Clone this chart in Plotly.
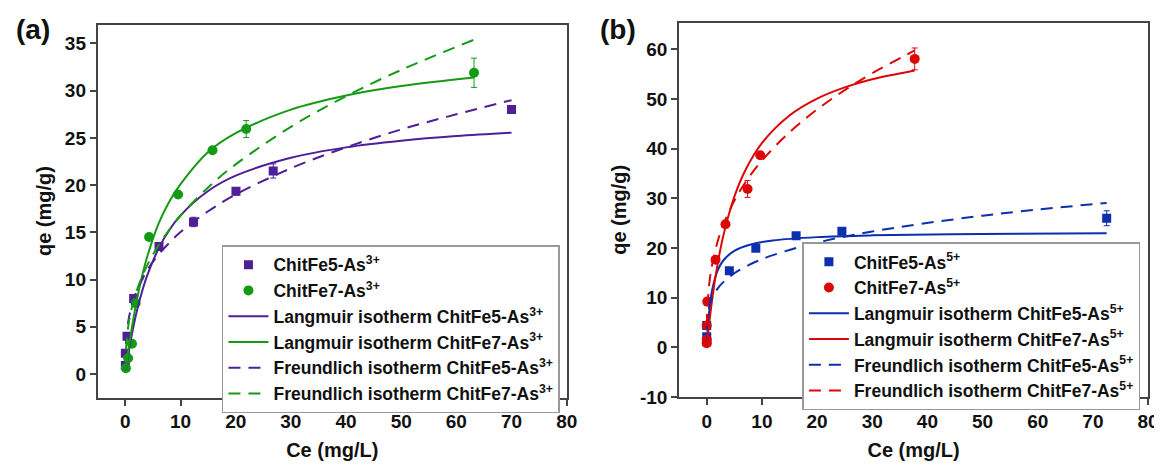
import plotly.graph_objects as go

# ---------------- Panel (a): As(III) ----------------
a_fe5_x = [0.0, 0.0, 0.3, 1.5, 6.1, 12.35, 20.05, 26.8, 70.0]
a_fe5_y = [0.9, 2.2, 4.0, 8.0, 13.5, 16.1, 19.35, 21.5, 28.0]
a_fe5_err = [0.1, 0.1, 0.2, 0.3, 0.3, 0.5, 0.4, 0.75, 0.3]

a_fe7_x = [0.1, 0.5, 1.2, 1.86, 4.3, 9.56, 15.8, 21.9, 63.2]
a_fe7_y = [0.6, 1.66, 3.2, 7.5, 14.5, 19.0, 23.7, 25.95, 31.9]
a_fe7_err = [0.1, 0.1, 0.2, 0.3, 0.3, 0.3, 0.3, 0.9, 1.55]

a_curve_x = [0.1, 0.5, 1, 2, 3, 4, 6, 8, 10, 15, 20, 30, 40, 50, 60, 70]
a_lang_fe5 = [0.41, 1.95, 3.65, 6.46, 8.69, 10.5, 13.26, 15.27, 16.8, 19.38, 21.0, 22.9, 24.0, 24.7, 25.2, 25.56]
a_freu_fe5 = [3.17, 5.46, 6.9, 8.72, 9.95, 11.03, 12.64, 13.9, 15.03, 17.23, 19.0, 21.78, 24.0, 25.9, 27.5, 29.0]

a_curve7_x = [0.1, 0.5, 1, 2, 3, 4, 6, 8, 10, 15, 20, 30, 40, 50, 63.2]
a_lang_fe7 = [0.48, 2.3, 4.25, 7.6, 10.3, 12.5, 15.9, 18.3, 20.1, 23.5, 25.5, 28.0, 29.5, 30.5, 31.4]
a_freu_fe7 = [2.58, 4.97, 6.58, 8.72, 10.26, 11.55, 13.62, 15.3, 16.76, 19.76, 22.2, 26.17, 29.42, 32.2, 35.4]

# ---------------- Panel (b): As(V) ----------------
b_fe5_x = [0.0, 0.0, 0.0, 4.1, 8.9, 16.2, 24.5, 72.5]
b_fe5_y = [1.1, 2.1, 4.4, 15.4, 19.95, 22.45, 23.35, 26.0]
b_fe5_err = [0.2, 0.2, 0.3, 0.5, 0.4, 0.4, 0.4, 1.5]

b_fe7_x = [0.0, 0.0, 0.0, 0.1, 1.6, 3.4, 7.4, 9.7, 37.7]
b_fe7_y = [0.8, 1.5, 4.4, 9.2, 17.65, 24.8, 31.9, 38.7, 58.1]
b_fe7_err = [0.2, 0.2, 0.3, 0.4, 0.5, 0.6, 1.7, 0.6, 2.2]

b_curve5_x = [0.02, 0.1, 0.3, 0.6, 1, 2, 3, 5, 8, 12, 20, 30, 50, 72.5]
b_lang_fe5 = [0.46, 2.12, 5.38, 8.74, 11.65, 15.53, 17.48, 19.42, 20.71, 21.51, 22.19, 22.55, 22.84, 22.98]
b_freu_fe5 = [3.75, 5.61, 7.38, 8.77, 9.97, 11.86, 13.12, 14.91, 16.77, 18.56, 21.08, 23.33, 26.51, 29.09]

b_curve7_x = [0.02, 0.1, 0.5, 1, 2, 3, 5, 7, 10, 15, 20, 25, 30, 37.7]
b_lang_fe7 = [0.23, 1.13, 5.28, 9.76, 16.94, 22.44, 30.32, 35.68, 41.14, 46.7, 50.09, 52.36, 54.0, 55.78]
b_freu_fe7 = [4.27, 7.5, 13.2, 16.8, 21.4, 24.7, 29.5, 33.2, 37.6, 43.3, 47.9, 51.8, 55.2, 59.8]

x_ticks = [0, 10, 20, 30, 40, 50, 60, 70, 80]
a_y_ticks = [0, 5, 10, 15, 20, 25, 30, 35]
b_y_ticks = [-10, 0, 10, 20, 30, 40, 50, 60]

PURPLE = "#4f1f96"
GREEN = "#159a15"
BLUE = "#0b2fae"
RED = "#dd0606"

FONT = "Arial, Liberation Sans, sans-serif"
DASH = "12px,8px"

fig = go.Figure()


def add_markers(x, y, err, color, sym, name, xa, ya, leg, size):
    fig.add_trace(go.Scatter(
        x=x, y=y, mode="markers", name=name, xaxis=xa, yaxis=ya, legend=leg,
        marker=dict(symbol=sym, size=size, color=color),
        error_y=dict(type="data", array=err, visible=True, color=color,
                     thickness=1, width=3),
        showlegend=True))


def add_line(x, y, color, dash, name, xa, ya, leg):
    fig.add_trace(go.Scatter(
        x=x, y=y, mode="lines", name=name, xaxis=xa, yaxis=ya, legend=leg,
        line=dict(color=color, width=2, dash=dash, shape="spline"),
        showlegend=True))


# panel (a)
add_markers(a_fe5_x, a_fe5_y, a_fe5_err, PURPLE, "square", "ChitFe5-As<sup>3+</sup>", "x", "y", "legend", 9)
add_markers(a_fe7_x, a_fe7_y, a_fe7_err, GREEN, "circle", "ChitFe7-As<sup>3+</sup>", "x", "y", "legend", 10)
add_line(a_curve_x, a_lang_fe5, PURPLE, "solid", "Langmuir isotherm ChitFe5-As<sup>3+</sup>", "x", "y", "legend")
add_line(a_curve7_x, a_lang_fe7, GREEN, "solid", "Langmuir isotherm ChitFe7-As<sup>3+</sup>", "x", "y", "legend")
add_line(a_curve_x, a_freu_fe5, PURPLE, DASH, "Freundlich isotherm ChitFe5-As<sup>3+</sup>", "x", "y", "legend")
add_line(a_curve7_x, a_freu_fe7, GREEN, DASH, "Freundlich isotherm ChitFe7-As<sup>3+</sup>", "x", "y", "legend")

# panel (b)
add_markers(b_fe5_x, b_fe5_y, b_fe5_err, BLUE, "square", "ChitFe5-As<sup>5+</sup>", "x2", "y2", "legend2", 9)
add_markers(b_fe7_x, b_fe7_y, b_fe7_err, RED, "circle", "ChitFe7-As<sup>5+</sup>", "x2", "y2", "legend2", 10)
add_line(b_curve5_x, b_lang_fe5, BLUE, "solid", "Langmuir isotherm ChitFe5-As<sup>5+</sup>", "x2", "y2", "legend2")
add_line(b_curve7_x, b_lang_fe7, RED, "solid", "Langmuir isotherm ChitFe7-As<sup>5+</sup>", "x2", "y2", "legend2")
add_line(b_curve5_x, b_freu_fe5, BLUE, DASH, "Freundlich isotherm ChitFe5-As<sup>5+</sup>", "x2", "y2", "legend2")
add_line(b_curve7_x, b_freu_fe7, RED, DASH, "Freundlich isotherm ChitFe7-As<sup>5+</sup>", "x2", "y2", "legend2")

tickfont = dict(family=FONT, size=19, color="#111", weight="bold")
titlefont = dict(family=FONT, size=20, color="#111", weight="bold")

axis_common = dict(showline=True, linecolor="#444", linewidth=2, mirror=True,
                   ticks="outside", ticklen=6, tickwidth=1.5, tickcolor="#444",
                   showgrid=False, zeroline=False, tickfont=tickfont)

legend_common = dict(font=dict(family=FONT, size=17.5, color="#111", weight="bold"),
                     bgcolor="white", bordercolor="#999", borderwidth=1.5,
                     tracegroupgap=0, itemwidth=40,
                     xanchor="left", yanchor="top")

fig.update_layout(
    width=1162, height=465,
    margin=dict(l=0, r=0, t=0, b=0),
    paper_bgcolor="white", plot_bgcolor="white",
    showlegend=True,
    xaxis=dict(domain=[0.078, 0.4854], range=[-5, 80], tickvals=x_ticks,
               title=dict(text="Ce (mg/L)", font=titlefont, standoff=12), anchor="y", **axis_common),
    yaxis=dict(domain=[0.1419, 0.9634], range=[-2.5, 37], tickvals=a_y_ticks,
               title=dict(text="qe (mg/g)", font=titlefont, standoff=8), anchor="x", **axis_common),
    xaxis2=dict(domain=[0.5831, 0.9905], range=[-5, 80], tickvals=x_ticks,
                title=dict(text="Ce (mg/L)", font=titlefont, standoff=12), anchor="y2", **axis_common),
    yaxis2=dict(domain=[0.1434, 0.9677], range=[-10, 65.4], tickvals=b_y_ticks,
                ticktext=[str(v) for v in b_y_ticks],
                title=dict(text="qe (mg/g)", font=titlefont, standoff=8), anchor="x2", **axis_common),
    legend=dict(x=216 / 1162, y=1 - 243 / 465, **legend_common),
    legend2=dict(x=802 / 1162, y=1 - 240 / 465, **legend_common),
    annotations=[
        dict(text="(a)", x=6 / 1162, y=1 - 4 / 465, xref="paper", yref="paper",
             xanchor="left", yanchor="top", showarrow=False,
             font=dict(family=FONT, size=28, color="#111", weight="bold")),
        dict(text="(b)", x=596 / 1162, y=1 - 4 / 465, xref="paper", yref="paper",
             xanchor="left", yanchor="top", showarrow=False,
             font=dict(family=FONT, size=28, color="#111", weight="bold")),
    ],
)

fig.write_html("out.html")
